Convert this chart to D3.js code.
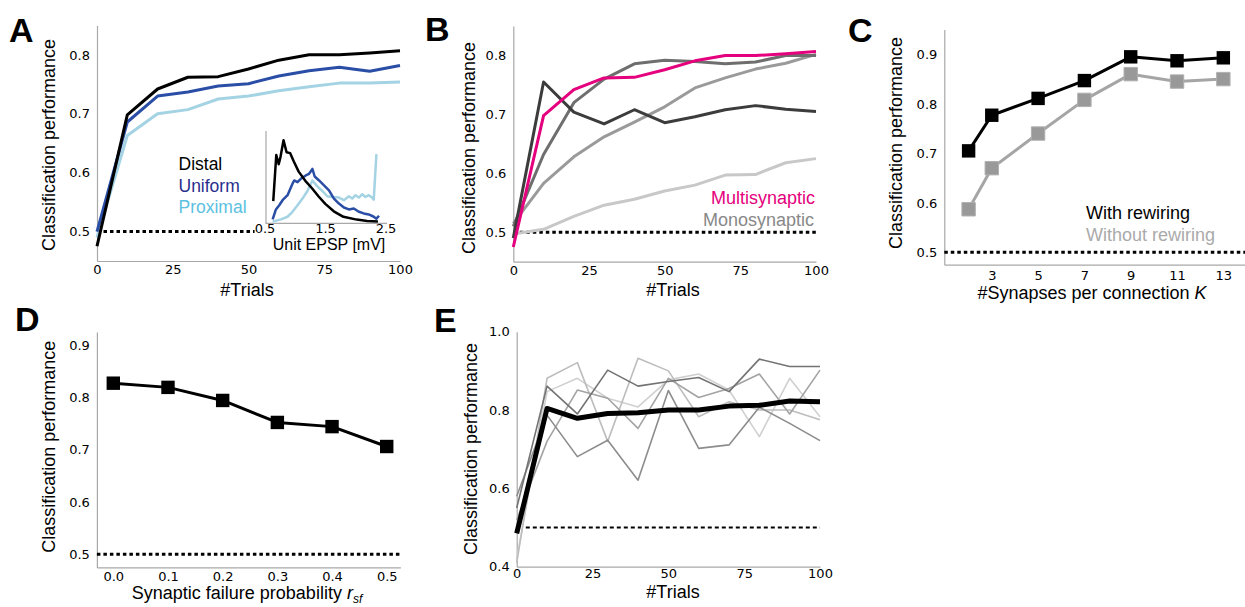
<!DOCTYPE html>
<html><head><meta charset="utf-8">
<script src="https://cdn.jsdelivr.net/npm/d3@7"></script>
<style>
body{margin:0;background:#fff;}
svg{display:block;}
.tick text{font-family:"DejaVu Sans",sans-serif;font-size:13px;fill:#000;}
.lab{font-family:"Liberation Sans",Arial,sans-serif;}
</style></head><body>
<svg id="c" width="1245" height="607"></svg>
<script>
// ---------- DATA ----------
const trials = [0,10,20,30,40,50,60,70,80,90,100];
// Panel A
const aDistal   = [0.475,0.698,0.742,0.762,0.763,0.776,0.791,0.800,0.800,0.803,0.807];
const aUniform  = [0.500,0.686,0.730,0.737,0.747,0.751,0.764,0.773,0.779,0.772,0.782];
const aProximal = [0.490,0.663,0.700,0.707,0.725,0.730,0.739,0.746,0.752,0.752,0.754];
const aLegend = ["Distal","Uniform","Proximal"];
// Inset (unit EPSP distributions)
const insetDistalX = [0.62,0.67,0.71,0.74,0.79,0.84,0.90,0.96,1.04,1.15,1.26,1.37,1.48,1.62,1.78,2.00,2.17,2.35];
const insetDistalY = [0.24,0.74,0.64,0.72,0.90,0.77,0.76,0.67,0.56,0.46,0.38,0.29,0.21,0.13,0.07,0.04,0.025,0.02];
const insetUniformX = [0.61,0.664,0.719,0.774,0.856,0.938,0.966,1.021,1.075,1.158,1.212,1.267,1.305,1.377,1.459,1.541,1.623,1.705,1.788,1.87,1.952,2.034,2.116,2.199,2.281,2.325,2.368];
const insetUniformY = [0.043,0.15,0.196,0.25,0.304,0.429,0.464,0.446,0.482,0.518,0.536,0.589,0.507,0.464,0.411,0.357,0.268,0.214,0.171,0.15,0.161,0.125,0.107,0.096,0.071,0.05,0.082];
const insetProximalX = [0.61,0.747,0.856,0.938,1.021,1.103,1.185,1.267,1.349,1.432,1.514,1.596,1.705,1.788,1.87,1.925,1.979,2.034,2.089,2.144,2.199,2.253,2.281,2.325];
const insetProximalY = [0.018,0.043,0.071,0.125,0.196,0.268,0.35,0.464,0.40,0.35,0.293,0.286,0.279,0.25,0.293,0.268,0.304,0.279,0.314,0.286,0.304,0.279,0.257,0.75];
const insetTicks = [0.5,1.5,2.5];
// Panel B
const bMulti         = [0.475,0.698,0.742,0.762,0.763,0.776,0.791,0.800,0.800,0.803,0.807];
const bMonoDark      = [0.490,0.755,0.704,0.684,0.708,0.686,0.696,0.708,0.715,0.709,0.705];
const bMonoMid       = [0.510,0.632,0.720,0.760,0.786,0.792,0.790,0.786,0.789,0.800,0.800];
const bMonoLight     = [0.515,0.583,0.628,0.662,0.687,0.713,0.745,0.762,0.777,0.787,0.802];
const bMonoLightest  = [0.497,0.505,0.527,0.546,0.556,0.570,0.580,0.597,0.598,0.618,0.625];
const bLegend = ["Multisynaptic","Monosynaptic"];
// Panel C
const kVals    = [2,3,5,7,9,11,13];
const cWith    = [0.705,0.777,0.811,0.847,0.895,0.887,0.893];
const cWithout = [0.587,0.670,0.740,0.808,0.860,0.845,0.850];
const cLegend = ["With rewiring","Without rewiring"];
// Panel D
const rsf   = [0,0.1,0.2,0.3,0.4,0.5];
const dPerf = [0.827,0.819,0.794,0.752,0.744,0.706];
// Panel E
const eMean = [0.485,0.804,0.779,0.791,0.793,0.800,0.800,0.810,0.812,0.823,0.821];
const eRun1 = [0.55,0.861,0.790,0.902,0.861,0.873,0.883,0.847,0.930,0.911,0.911];
const eRun2 = [0.41,0.881,0.921,0.720,0.932,0.900,0.783,0.821,0.800,0.800,0.775];
const eRun3 = [0.42,0.847,0.881,0.830,0.808,0.877,0.892,0.851,0.732,0.881,0.783];
const eRun4 = [0.58,0.787,0.681,0.723,0.621,0.850,0.702,0.711,0.807,0.766,0.722];
const eRun5 = [0.52,0.720,0.851,0.830,0.753,0.881,0.832,0.855,0.892,0.790,0.902];
const chance = 0.5;

// ---------- DRAW ----------
const svg = d3.select("#c");
const AXC = "#a8a8a8";
const LABF = '"Liberation Sans",Arial,sans-serif';

function panel(o){
  const g = svg.append("g");
  const x = d3.scaleLinear().domain(o.xd).range(o.xr);
  const y = d3.scaleLinear().domain(o.yd).range(o.yr);
  const ax = g.append("g").attr("transform",`translate(0,${o.yr[0]})`)
    .call(d3.axisBottom(x).tickValues(o.xt).tickFormat(o.xf).tickSize(0).tickSizeOuter(0).tickPadding(o.xp==null?4:o.xp));
  const ay = g.append("g").attr("transform",`translate(${o.xr[0]},0)`)
    .call(d3.axisLeft(y).tickValues(o.yt).tickFormat(o.yf).tickSize(0).tickSizeOuter(0).tickPadding(7));
  [ax,ay].forEach(a=>{a.select(".domain").attr("stroke",AXC).attr("stroke-width",1.2);});
  return {g,x,y};
}
function line(p, xs, ys, color, w, dash){
  const data = xs.map((v,i)=>[v,ys[i]]);
  const path = p.g.append("path").datum(data)
    .attr("fill","none").attr("stroke",color).attr("stroke-width",w)
    .attr("stroke-linejoin","round")
    .attr("d", d3.line().x(d=>p.x(d[0])).y(d=>p.y(d[1])));
  if(dash) path.attr("stroke-dasharray",dash);
  return path;
}
function text(x,y,s,opt){
  opt=opt||{};
  const t = svg.append("text").attr("x",x).attr("y",y)
    .attr("font-family",LABF).attr("font-size",opt.size||18)
    .attr("fill",opt.fill||"#000").attr("text-anchor",opt.anchor||"start");
  if(opt.bold) t.attr("font-weight","bold");
  t.text(s);
  return t;
}
function ylabel(x,y,s){
  svg.append("text").attr("transform",`translate(${x},${y}) rotate(-90)`)
    .attr("font-family",LABF).attr("font-size",18).attr("text-anchor","middle").text(s);
}
const f1 = d3.format(".1f");
const fi = d3.format("d");

// ---- Panel A ----
const A = panel({xd:[0,100],xr:[97,400],yd:[0.45,0.85],yr:[261,25.4],xt:[0,25,50,75,100],xf:fi,yt:[0.5,0.6,0.7,0.8],yf:f1});
line(A,[0,52],[chance,chance],"#000",3,"3.5,3");
line(A,trials,aProximal,"#a4d3e3",3);
line(A,trials,aUniform,"#2a4ea6",3);
line(A,trials,aDistal,"#000",3);
// inset
const I = {g:svg.append("g"), x:d3.scaleLinear().domain([0.5,2.5]).range([266,387]), y:d3.scaleLinear().domain([0,1]).range([223.3,131])};
I.g.append("path").attr("d",d3.line()([[266,131],[266,223.3],[387,223.3]])).attr("fill","none").attr("stroke",AXC).attr("stroke-width",1.2);
line(I,insetProximalX,insetProximalY,"#a4d3e3",2.5);
line(I,insetUniformX,insetUniformY,"#2a4ea6",2.5);
line(I,insetDistalX,insetDistalY,"#000",2.5);
insetTicks.forEach(v=>{
  svg.append("text").attr("x",I.x(v)-1).attr("y",233).attr("text-anchor","middle")
    .attr("font-family","DejaVu Sans").attr("font-size",13).text(f1(v));
});
text(329,249.5,"Unit EPSP [mV]",{size:16,anchor:"middle"});
const aCols = ["#000","#2a2f8e","#5bc1df"];
aLegend.forEach((s,i)=>text(178.5,170+i*21.6,s,{size:17.5,fill:aCols[i]}));
ylabel(55,145,"Classification performance");
text(247,296,"#Trials",{anchor:"middle"});
text(9,42,"A",{size:34,bold:true});

// ---- Panel B ----
const B = panel({xd:[0,100],xr:[513.3,816],yd:[0.45,0.85],yr:[261.7,26.1],xt:[0,25,50,75,100],xf:fi,yt:[0.5,0.6,0.7,0.8],yf:f1});
line(B,[0,100],[chance,chance],"#000",3,"3.5,3");
line(B,trials,bMonoLightest,"#c8c8c8",3);
line(B,trials,bMonoLight,"#9a9a9a",3);
line(B,trials,bMonoMid,"#6e6e6e",3);
line(B,trials,bMonoDark,"#3c3c3c",3);
line(B,trials,bMulti,"#e5007d",3);
text(815,204,bLegend[0],{anchor:"end",fill:"#e5007d"});
text(814,225.5,bLegend[1],{anchor:"end",fill:"#888"});
ylabel(475,148,"Classification performance");
text(673,296,"#Trials",{anchor:"middle"});
text(425,41,"B",{size:34,bold:true});

// ---- Panel C ----
const C = panel({xd:[0.95,14],xr:[944.3,1246.5],yd:[0.475,0.95],yr:[264.7,29.6],xt:[3,5,7,9,11,13],xf:fi,xp:6,yt:[0.5,0.6,0.7,0.8,0.9],yf:f1});
line(C,[0.95,14],[chance,chance],"#000",3,"3.5,3");
line(C,kVals,cWithout,"#a5a5a5",3);
line(C,kVals,cWith,"#000",3);
const sq = d3.symbol(d3.symbolSquare).size(180);
C.g.selectAll(".sg").data(kVals).join("path").attr("d",sq)
  .attr("transform",(d,i)=>`translate(${C.x(d)},${C.y(cWithout[i])})`)
  .attr("fill","#999").attr("stroke","#b0b0b0").attr("stroke-width",1);
C.g.selectAll(".sb").data(kVals).join("path").attr("d",sq)
  .attr("transform",(d,i)=>`translate(${C.x(d)},${C.y(cWith[i])})`)
  .attr("fill","#000");
text(1086,219,cLegend[0]);
text(1086,240.5,cLegend[1],{fill:"#aaa"});
ylabel(901.5,143,"Classification performance");
const cl = text(1092,299,"#Synapses per connection ",{anchor:"middle"});
cl.append("tspan").attr("font-style","italic").text("K");
text(848,42,"C",{size:34,bold:true});

// ---- Panel D ----
const D = panel({xd:[-0.03,0.525],xr:[96.9,400.4],yd:[0.475,0.925],yr:[567.4,331.9],xt:rsf,xf:f1,xp:4,yt:[0.5,0.6,0.7,0.8,0.9],yf:f1});
line(D,[-0.03,0.525],[chance,chance],"#000",3,"3.5,3");
line(D,rsf,dPerf,"#000",3);
D.g.selectAll(".sd").data(rsf).join("path").attr("d",sq)
  .attr("transform",(d,i)=>`translate(${D.x(d)},${D.y(dPerf[i])})`).attr("fill","#000");
ylabel(55,446.7,"Classification performance");
const dl = text(247,598.5,"Synaptic failure probability ",{anchor:"middle"});
dl.append("tspan").attr("font-style","italic").text("r");
dl.append("tspan").attr("font-style","italic").attr("font-size",12).attr("dy",4).text("sf");
text(15,331,"D",{size:34,bold:true});

// ---- Panel E ----
const E = panel({xd:[0,100],xr:[516.7,820],yd:[0.4,1.0],yr:[566.7,331.7],xt:[0,25,50,75,100],xf:fi,xp:2,yt:[0.4,0.6,0.8,1.0],yf:f1});
line(E,[3,100],[chance,chance],"#000",2,"4,3");
line(E,trials,eRun3,"#d0d0d0",1.6);
line(E,trials,eRun2,"#bdbdbd",1.6);
line(E,trials,eRun5,"#a3a3a3",1.6);
line(E,trials,eRun4,"#8c8c8c",1.6);
line(E,trials,eRun1,"#737373",1.6);
line(E,trials,eMean,"#000",5);
ylabel(476.5,449,"Classification performance");
text(673,598,"#Trials",{anchor:"middle"});
text(434,332,"E",{size:34,bold:true});
</script>
</body></html>
